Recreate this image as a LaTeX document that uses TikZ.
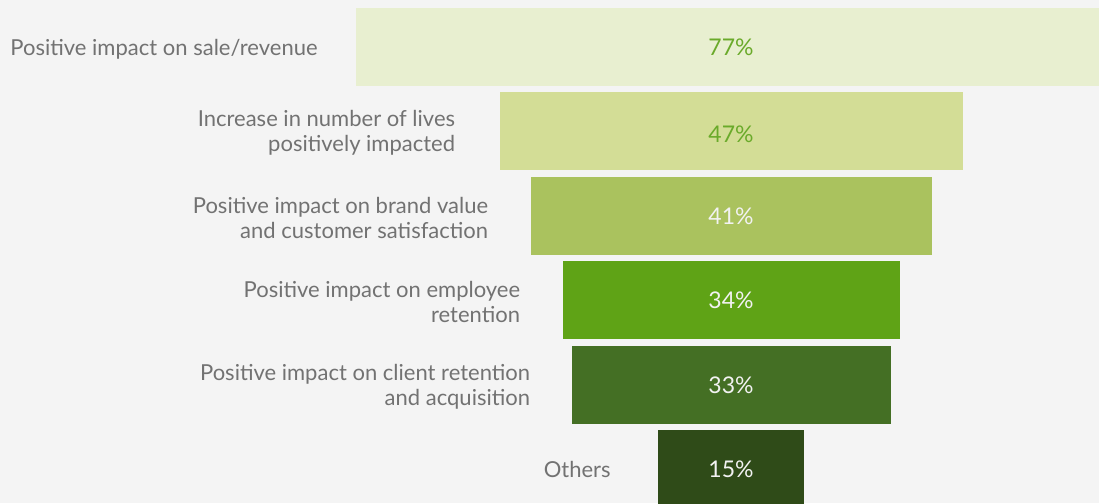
\documentclass[tikz,border=0pt]{standalone}
\usepackage{fontspec}
\setmainfont{Lato}
\usetikzlibrary{positioning}
\definecolor{bg}{HTML}{F4F4F4}
\definecolor{txt}{HTML}{727272}
\definecolor{gA}{HTML}{E8EFD0}
\definecolor{gB}{HTML}{D3DD96}
\definecolor{gC}{HTML}{AAC25E}
\definecolor{gD}{HTML}{5FA316}
\definecolor{gE}{HTML}{446F24}
\definecolor{gF}{HTML}{2F4B18}
\definecolor{pctgreen}{HTML}{6AAA2A}
\definecolor{pctwhite}{HTML}{F2F2F2}
\tikzset{
  bar/.style={inner sep=0pt,minimum height=78pt},
  pct/.style={font=\fontsize{23}{25}\selectfont},
  lbl/.style={text=txt,align=right,anchor=east,inner sep=0pt,yshift=-2pt,font=\fontsize{22}{25}\selectfont}
}
% one funnel step: name, centre y, width, fill, text colour, value
\def\STEP#1#2#3#4#5#6{\node[bar,fill=#4,minimum width=#3pt] (#1) at (731,#2) {};
  \node[pct,text=#5] (#1v) at (#1.center) {#6\%};}

\begin{document}
\begin{tikzpicture}[x=1pt,y=-1pt]
\useasboundingbox[fill=bg] (0,0) rectangle (1099,503);
\STEP{s1}{47}{750}{gA}{pctgreen}{77}
\node[bar,fill=gB,minimum width=463pt] (s2) at (731,131) {};
\node[pct,text=pctgreen,yshift=-3pt] (s2v) at (s2.center) {47\%};
\STEP{s3}{216}{401}{gC}{pctwhite}{41}
\STEP{s4}{300}{337}{gD}{pctwhite}{34}
\STEP{s5}{385}{319}{gE}{pctwhite}{33}
\STEP{s6}{469}{146}{gF}{pctwhite}{15}
\node[lbl,left=38pt of s1] (l1) {Positive impact on sale/revenue};
\node[lbl,left=44pt of s2] (l2) {Increase in number of lives\\positively impacted};
\node[lbl,left=42pt of s3] (l3) {Positive impact on brand value\\and customer satisfaction};
\node[lbl,left=42pt of s4] (l4) {Positive impact on employee\\retention};
\node[lbl,left=41pt of s5] (l5) {Positive impact on client retention\\and acquisition};
\node[lbl,left=47pt of s6,yshift=2pt] (l6) {Others};
\end{tikzpicture}
\end{document}
